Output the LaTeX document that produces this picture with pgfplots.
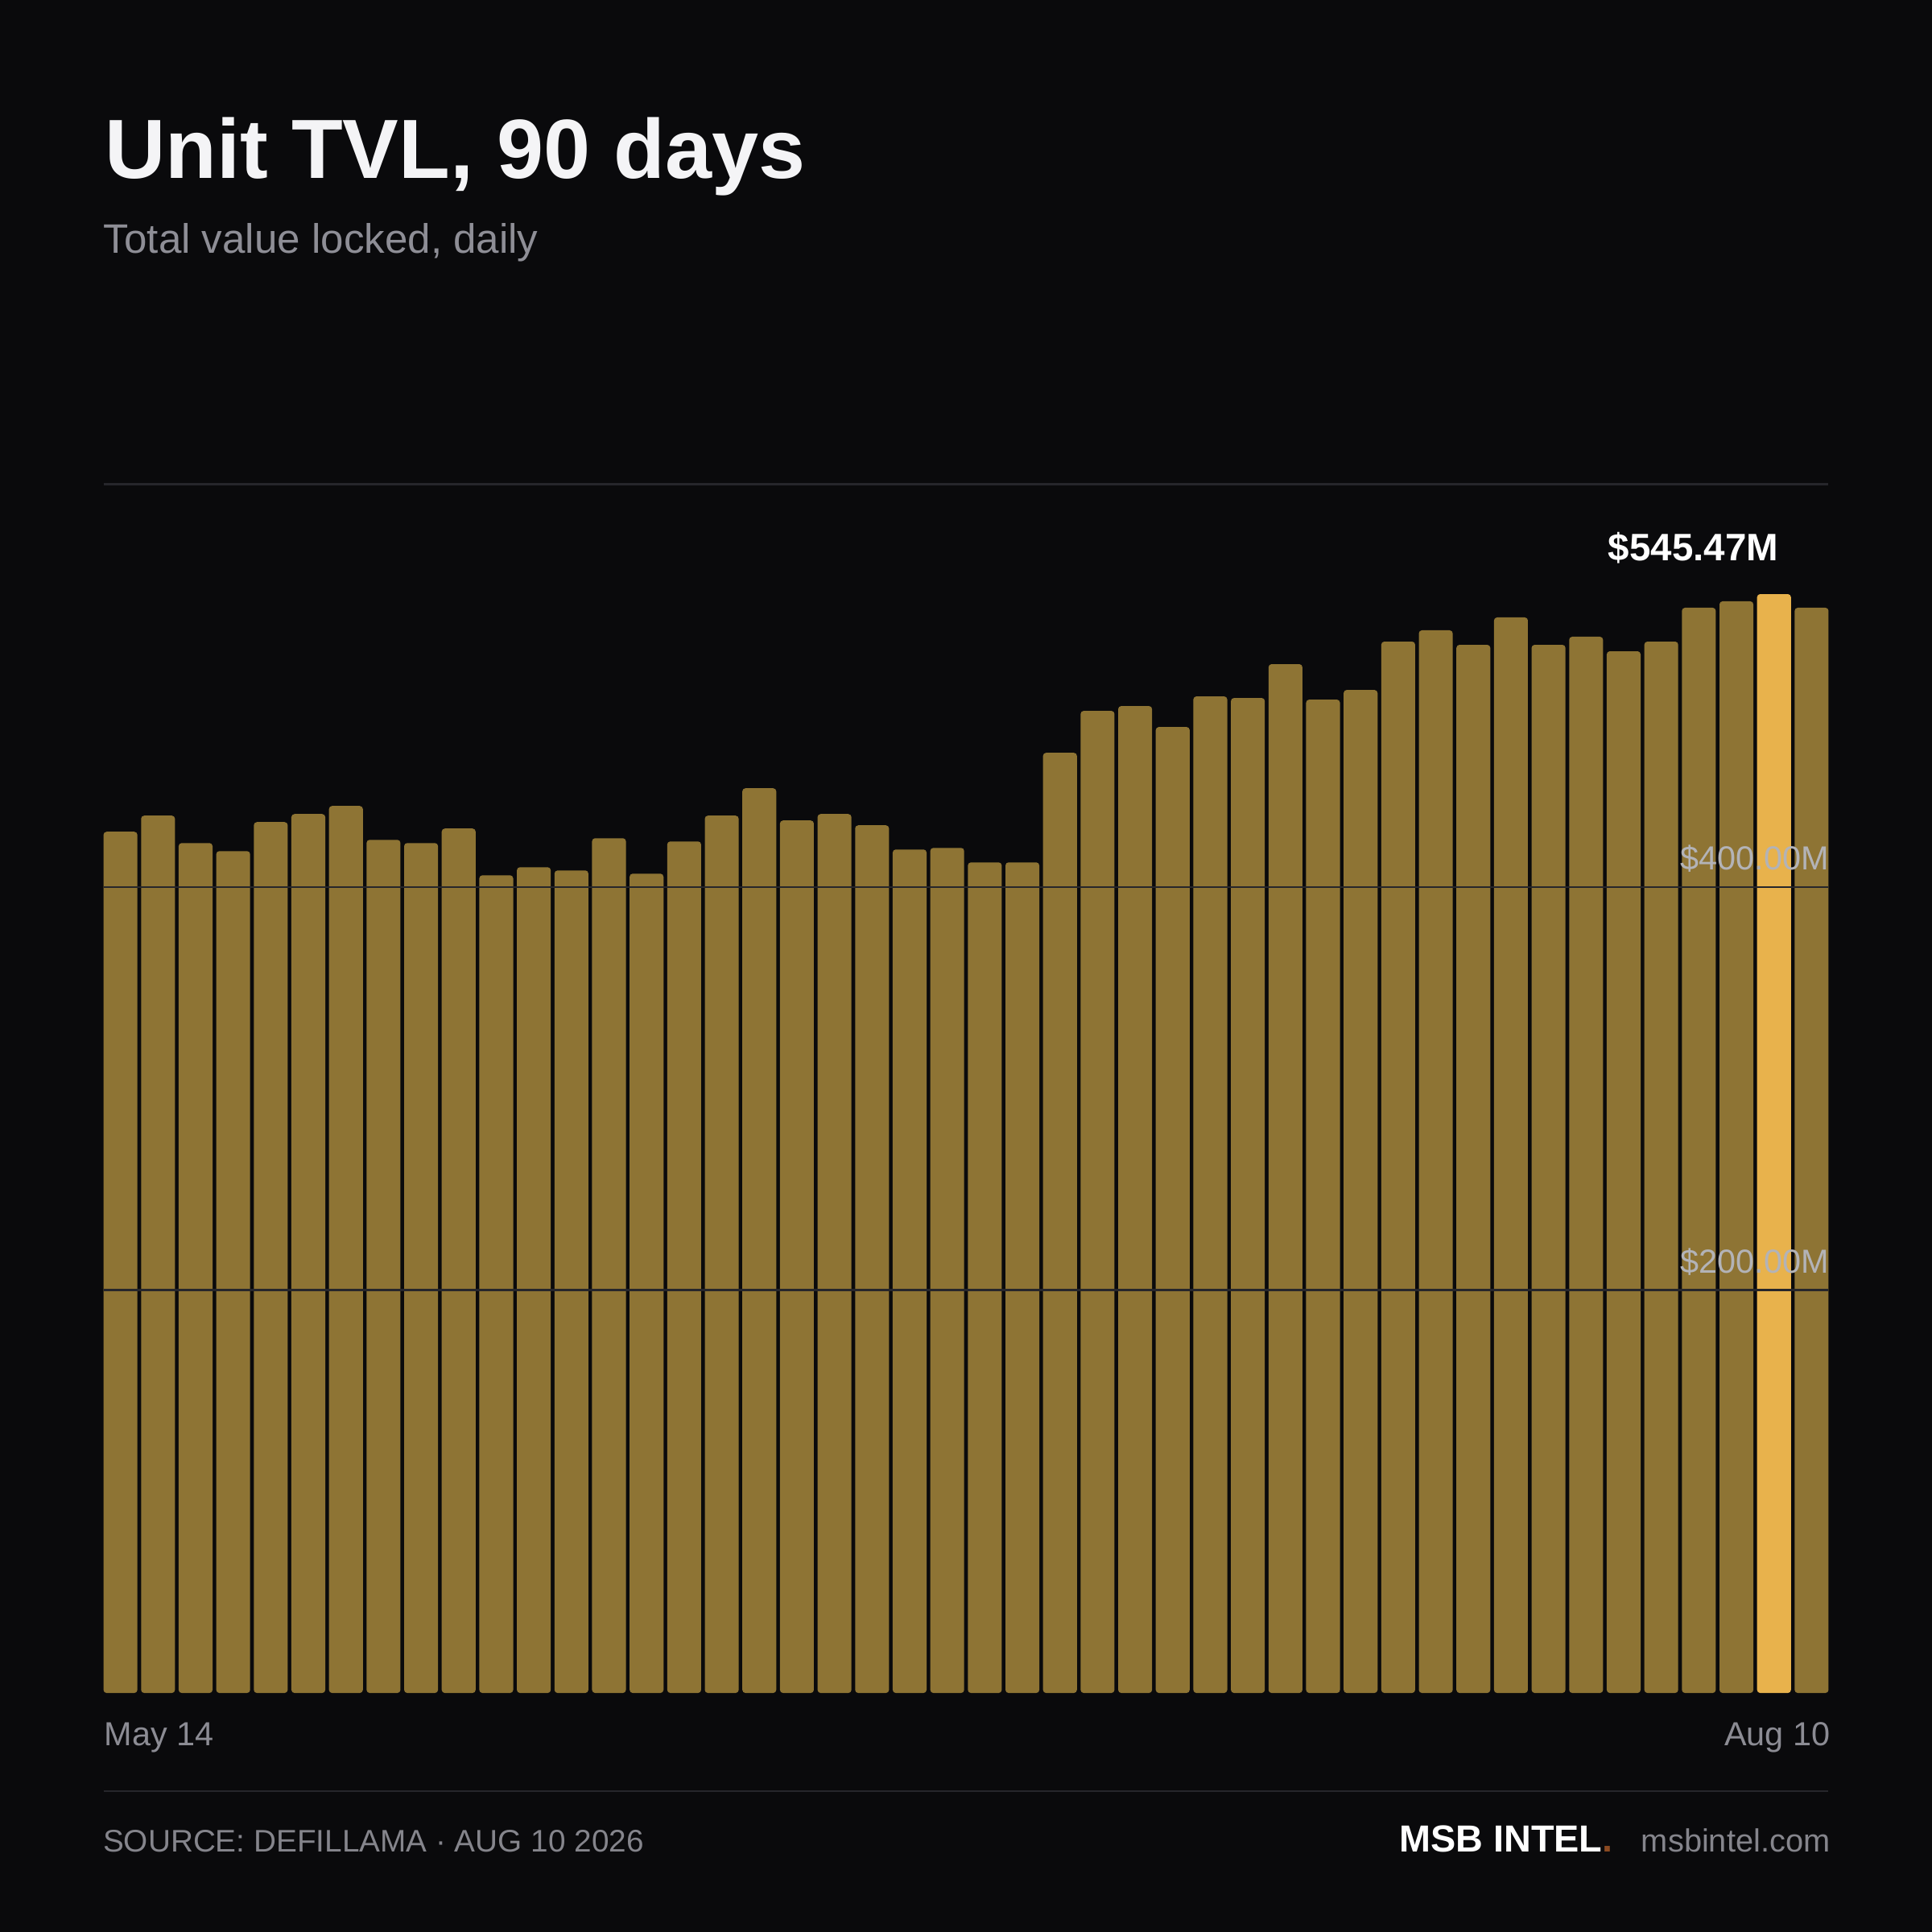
\documentclass[border=0pt]{standalone}
\usepackage{fontspec}
\setmainfont{Liberation Sans}
\usepackage{pgfplots}
\usepackage{pgfplotstable}
\pgfplotsset{compat=1.18}

\definecolor{bg}{HTML}{0A0A0C}
\definecolor{barc}{HTML}{8E7434}
\definecolor{hic}{HTML}{E8B24C}
\definecolor{gridc}{HTML}{26262B}
\definecolor{tickc}{HTML}{B3B3B7}
\definecolor{titlec}{HTML}{F4F4F6}
\definecolor{subc}{HTML}{8E8E96}
\definecolor{datec}{HTML}{8C8C94}
\definecolor{footc}{HTML}{85858C}
\definecolor{dotc}{HTML}{8B4A22}

% daily TVL in $M, day 44 (Aug 9 peak) is plotted separately
\pgfplotstableread{
day tvl
0  427.5
1  435.5
2  421.9
3  417.9
4  432.3
5  436.3
6  440.3
7  423.5
8  421.9
9  429.1
10 405.9
11 409.9
12 408.3
13 424.3
14 406.7
15 422.7
16 435.5
17 449.1
18 433.1
19 436.3
20 430.7
21 418.7
22 419.5
23 412.3
24 412.3
25 466.7
26 487.5
27 489.9
28 479.5
29 494.7
30 493.9
31 510.7
32 493.1
33 497.9
34 521.9
35 527.5
36 520.3
37 533.9
38 520.3
39 524.3
40 517.1
41 521.9
42 538.7
43 541.9
45 538.7
}\tvl

\begin{document}
\begin{tikzpicture}
\fill[bg] (0,0) rectangle (156.8mm,-156.8mm);

\node[anchor=base west, inner sep=0, text=titlec, font=\fontsize{19.4pt}{23pt}\selectfont\bfseries]
  at (8.45mm,-14.48mm) {Unit TVL, 90 days};
\node[anchor=base west, inner sep=0, text=subc, font=\fontsize{9.5pt}{11pt}\selectfont]
  at (8.35mm,-20.58mm) {Total value locked, daily};

\begin{axis}[
  at={(8.4mm,-137.4mm)}, anchor=south west,
  scale only axis, width=140mm, height=98.1mm,
  xmin=-0.4508, xmax=45.4508, ymin=0, ymax=600,
  ybar, bar width=2.75mm, bar shift=0pt,
  axis line style={draw=none}, tick style={draw=none},
  xtick=\empty, ytick={200,400,600}, yticklabels={},
  ymajorgrids, grid style={gridc, line width=0.15mm},
  axis on top, clip=false,
]
\addplot[fill=barc, draw=none, rounded corners=0.25mm] table[x=day, y=tvl] {\tvl};
\addplot[fill=hic, draw=none, rounded corners=0.25mm] coordinates {(44,545.47)};

\node[anchor=base east, inner sep=0, text=tickc, font=\fontsize{7.7pt}{9pt}\selectfont]
  at (axis cs:45.4508,400) [yshift=1.38mm, xshift=0.1mm] {\$400.00M};
\node[anchor=base east, inner sep=0, text=tickc, font=\fontsize{7.7pt}{9pt}\selectfont]
  at (axis cs:45.4508,200) [yshift=1.38mm, xshift=0.1mm] {\$200.00M};
\end{axis}

\node[anchor=base east, inner sep=0, text=white, font=\fontsize{8.83pt}{10pt}\selectfont\bfseries]
  at (144.4mm,-45.5mm) {\$545.47M};

\node[anchor=base west, inner sep=0, text=datec, font=\fontsize{7.7pt}{9pt}\selectfont]
  at (8.4mm,-141.66mm) {May 14};
\node[anchor=base east, inner sep=0, text=datec, font=\fontsize{7.7pt}{9pt}\selectfont]
  at (148.6mm,-141.66mm) {Aug 10};

\draw[gridc, line width=0.12mm] (8.4mm,-145.35mm) -- (148.4mm,-145.35mm);

\node[anchor=base west, inner sep=0, text=footc, font=\fontsize{7.2pt}{9pt}\selectfont]
  at (8.3mm,-150.27mm) {SOURCE: DEFILLAMA · AUG 10 2026};
\node[anchor=base west, inner sep=0, text=white, font=\fontsize{8.7pt}{10pt}\selectfont\bfseries]
  at (113.5mm,-150.27mm) {MSB INTEL\textcolor{dotc}{.}};
\node[anchor=base east, inner sep=0, text=footc, font=\fontsize{7.4pt}{9pt}\selectfont]
  at (148.6mm,-150.27mm) {msbintel.com};
\end{tikzpicture}
\end{document}
